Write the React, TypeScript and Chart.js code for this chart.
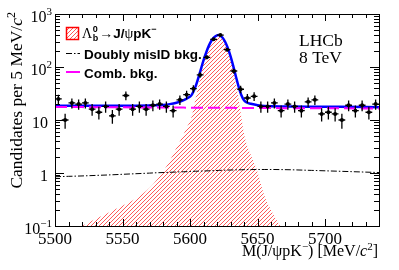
import React, { useEffect, useRef } from "react";
import { Chart, registerables } from "chart.js";
Chart.register(...registerables);

// ---- data ----
const binHalfWidth = 2.5;
const binCenters = [
  5502.5, 5507.5, 5512.5, 5517.5, 5522.5, 5527.5, 5532.5, 5537.5, 5542.5, 5547.5,
  5552.5, 5557.5, 5562.5, 5567.5, 5572.5, 5577.5, 5582.5, 5587.5, 5592.5, 5597.5,
  5602.5, 5607.5, 5612.5, 5617.5, 5622.5, 5627.5, 5632.5, 5637.5, 5642.5, 5647.5,
  5652.5, 5657.5, 5662.5, 5667.5, 5672.5, 5677.5, 5682.5, 5687.5, 5692.5, 5697.5,
  5702.5, 5707.5, 5712.5, 5717.5, 5722.5, 5727.5, 5732.5, 5737.5,
];
const counts = [
  25, 10, 21, 20, 21, 16, 14, 18, 12, 16,
  29, 16, 18, 16, 19, 20, 18, 15, 24, 30,
  39, 71, 152, 333, 400, 212, 84, 38, 26, 28,
  18, 18, 21, 15, 20, 18, 15, 22, 24, 13,
  14, 13, 10, 19, 15, 19, 14, 20,
];

const curveMass = [
  5500, 5510, 5520, 5530, 5540, 5550, 5560, 5570, 5575, 5580,
  5585, 5590, 5595, 5598, 5601, 5604, 5607, 5610, 5612, 5614,
  5616, 5618, 5620, 5621, 5622, 5624, 5626, 5628, 5630, 5632,
  5634, 5636, 5638, 5640, 5642, 5645, 5650, 5655, 5660, 5667,
  5675, 5690, 5710, 5740,
];
const signalCurve = [
  0.055, 0.075, 0.1, 0.135, 0.18, 0.24, 0.33, 0.52, 0.72, 1.05,
  1.7, 3.0, 5.2, 7.5, 11, 24, 55, 115, 170, 235,
  298, 348, 376, 382, 377, 342, 282, 210, 142, 87,
  48, 24.5, 11.5, 5.5, 3.5, 2.2, 1.05, 0.38, 0.2, 0.1,
  0.065, 0.04, 0.025, 0.015,
];
const combCurve = [
  17.6, 17.55, 17.5, 17.45, 17.4, 17.35, 17.3, 17.25, 17.2, 17.2,
  17.2, 17.15, 17.15, 17.1, 17.1, 17.1, 17.1, 17.05, 17.05, 17.05,
  17.0, 17.0, 17.0, 17.0, 17.0, 17.0, 16.95, 16.95, 16.95, 16.95,
  16.9, 16.9, 16.9, 16.9, 16.9, 16.85, 16.85, 16.8, 16.8, 16.75,
  16.7, 16.65, 16.6, 16.45,
];
const misIdCurve = [
  0.85, 0.865, 0.88, 0.9, 0.92, 0.945, 0.97, 0.995, 1.01, 1.02,
  1.03, 1.045, 1.055, 1.06, 1.07, 1.08, 1.085, 1.09, 1.095, 1.1,
  1.105, 1.11, 1.115, 1.12, 1.12, 1.125, 1.13, 1.135, 1.14, 1.14,
  1.145, 1.15, 1.15, 1.155, 1.16, 1.16, 1.165, 1.165, 1.165, 1.16,
  1.15, 1.12, 1.08, 1.02,
];

const xTickLabels = [5500, 5550, 5600, 5650, 5700];
const yTickLabels = [
  { v: 1000, base: "10", sup: "3" },
  { v: 100, base: "10", sup: "2" },
  { v: 10, base: "10", sup: "" },
  { v: 1, base: "1", sup: "" },
  { v: 0.1, base: "10", sup: "\u22121" },
];

const SERIF = "'Liberation Serif', 'Times New Roman', serif";
const SANS = "'Liberation Sans', Arial, sans-serif";
const HATCH = "#ff5a5a";

type Piece = { t: string; f: string; dy?: number };

function piecesWidth(ctx: CanvasRenderingContext2D, pieces: Piece[]) {
  let w = 0;
  for (const p of pieces) {
    ctx.font = p.f;
    w += ctx.measureText(p.t).width;
  }
  return w;
}
function drawPieces(ctx: CanvasRenderingContext2D, pieces: Piece[], x: number, y: number) {
  let cx = x;
  for (const p of pieces) {
    ctx.font = p.f;
    ctx.fillText(p.t, cx, y + (p.dy || 0));
    cx += ctx.measureText(p.t).width;
  }
  return cx;
}

// diagonal "/" hatch lines over a rectangle (caller sets the clip)
function hatchRect(ctx: CanvasRenderingContext2D, l: number, t: number, r: number, b: number) {
  const h = b - t;
  ctx.strokeStyle = HATCH;
  ctx.lineWidth = 1;
  ctx.beginPath();
  for (let s = Math.floor(l - h); s < r + 4; s += 4) {
    ctx.moveTo(s, b);
    ctx.lineTo(s + h, t);
  }
  ctx.stroke();
}

export default function App() {
  const ref = useRef<HTMLCanvasElement>(null);
  useEffect(() => {
    const canvas = ref.current!;
    const total = curveMass.map((m, i) => ({ x: m, y: signalCurve[i] + combCurve[i] + misIdCurve[i] }));

    const rootPlugin = {
      id: "rootStyle",
      afterDatasetDraw(chart: any, args: any) {
        if (chart.data.datasets[args.index].label !== "signal") return;
        const { ctx, chartArea: a } = chart;
        const line = args.meta.dataset;
        const pts = args.meta.data;
        ctx.save();
        ctx.beginPath();
        ctx.rect(a.left, a.top, a.right - a.left, a.bottom - a.top);
        ctx.clip();
        if (line.updateControlPoints) line.updateControlPoints(a, "x");
        ctx.beginPath();
        line.path(ctx);
        ctx.lineTo(pts[pts.length - 1].x, a.bottom + 10);
        ctx.lineTo(pts[0].x, a.bottom + 10);
        ctx.closePath();
        ctx.clip();
        hatchRect(ctx, a.left, a.top, a.right, a.bottom);
        ctx.restore();
      },
      afterDatasetsDraw(chart: any) {
        const { ctx, chartArea: a, scales } = chart;
        const x = scales.x, y = scales.y;
        ctx.save();
        ctx.beginPath();
        ctx.rect(a.left, a.top, a.right - a.left, a.bottom - a.top);
        ctx.clip();
        ctx.strokeStyle = "#000";
        ctx.lineWidth = 1.3;
        binCenters.forEach((m, i) => {
          const n = counts[i];
          const e = Math.sqrt(n);
          const px = x.getPixelForValue(m);
          const py = y.getPixelForValue(n);
          ctx.beginPath();
          ctx.moveTo(x.getPixelForValue(m - binHalfWidth), py);
          ctx.lineTo(x.getPixelForValue(m + binHalfWidth), py);
          ctx.moveTo(px, y.getPixelForValue(n + e));
          ctx.lineTo(px, y.getPixelForValue(Math.max(n - e, 0.001)));
          ctx.stroke();
        });
        ctx.restore();
      },
      afterDraw(chart: any) {
        const { ctx, chartArea: a, scales } = chart;
        const x = scales.x, y = scales.y;
        ctx.save();
        // frame
        ctx.strokeStyle = "#000";
        ctx.lineWidth = 1;
        ctx.strokeRect(Math.round(a.left) + 0.5, Math.round(a.top) + 0.5, Math.round(a.right - a.left), Math.round(a.bottom - a.top));
        // x ticks
        ctx.beginPath();
        for (let v = 5500; v <= 5740; v += 10) {
          const px = Math.round(x.getPixelForValue(v)) + 0.5;
          const len = v % 50 === 0 ? 7 : 4;
          ctx.moveTo(px, a.bottom);
          ctx.lineTo(px, a.bottom - len);
          ctx.moveTo(px, a.top);
          ctx.lineTo(px, a.top + len);
        }
        // y ticks
        for (let d = -1; d <= 3; d++) {
          for (let k = 1; k <= 9; k++) {
            const v = k * Math.pow(10, d);
            if (v > 1000) break;
            const py = Math.round(y.getPixelForValue(v)) + 0.5;
            const len = k === 1 ? 9 : 5;
            ctx.moveTo(a.left, py);
            ctx.lineTo(a.left + len, py);
            ctx.moveTo(a.right, py);
            ctx.lineTo(a.right - len, py);
          }
        }
        ctx.stroke();

        ctx.fillStyle = "#000";
        ctx.textBaseline = "alphabetic";
        // x tick labels
        ctx.font = `17px ${SERIF}`;
        ctx.textAlign = "center";
        for (const v of xTickLabels) {
          ctx.fillText(String(v), x.getPixelForValue(v), 243.5);
        }
        // y tick labels
        ctx.textAlign = "left";
        for (const t of yTickLabels) {
          const py = y.getPixelForValue(t.v) + 8;
          const pieces: Piece[] = [{ t: t.base, f: `16px ${SERIF}` }];
          if (t.sup) pieces.push({ t: t.sup, f: `11px ${SERIF}`, dy: -7.5 });
          const w = piecesWidth(ctx, pieces);
          const right = t.sup ? 52 : 48;
          drawPieces(ctx, pieces, right - w, py);
        }
        // x title
        const xt: Piece[] = [
          { t: "M(J/\u03C8pK", f: `16px ${SERIF}` },
          { t: "\u2212", f: `11px ${SERIF}`, dy: -6 },
          { t: ") [MeV/", f: `16px ${SERIF}` },
          { t: "c", f: `italic 16px ${SERIF}` },
          { t: "2", f: `11px ${SERIF}`, dy: -6.5 },
          { t: "]", f: `16px ${SERIF}` },
        ];
        drawPieces(ctx, xt, 378 - piecesWidth(ctx, xt), 256);
        // y title
        const yt: Piece[] = [
          { t: "Candidates per 5 MeV/", f: `17.5px ${SERIF}` },
          { t: "c", f: `italic 17.5px ${SERIF}` },
          { t: "2", f: `12px ${SERIF}`, dy: -7 },
        ];
        ctx.save();
        ctx.translate(22, 12);
        ctx.rotate(-Math.PI / 2);
        drawPieces(ctx, yt, -piecesWidth(ctx, yt), 0);
        ctx.restore();

        // LHCb label
        ctx.font = `17.5px ${SERIF}`;
        ctx.fillText("LHCb", 299, 46);
        ctx.fillText("8 TeV", 299, 63);

        // legend
        ctx.save();
        ctx.beginPath();
        ctx.rect(66, 27, 12, 12);
        ctx.clip();
        hatchRect(ctx, 66, 27, 78, 39);
        ctx.restore();
        ctx.strokeStyle = "#ff0000";
        ctx.lineWidth = 1.5;
        ctx.strokeRect(66.5, 27.5, 12, 12);
        ctx.fillStyle = "#000";
        let cx = 82;
        const b1 = 38;
        ctx.font = `14px ${SERIF}`;
        ctx.fillText("\u039B", cx, b1);
        cx += ctx.measureText("\u039B").width + 0.5;
        ctx.font = `bold 9px ${SANS}`;
        ctx.fillText("0", cx, b1 - 6);
        ctx.fillText("b", cx, b1 + 3);
        cx += ctx.measureText("b").width + 1;
        drawPieces(ctx, [
          { t: "\u2192", f: `14px ${SERIF}` },
          { t: "J/", f: `bold 13.5px ${SANS}` },
          { t: "\u03C8", f: `14px ${SERIF}` },
          { t: "pK", f: `bold 13.5px ${SANS}` },
          { t: "\u2212", f: `bold 9px ${SANS}`, dy: -6 },
        ], cx, b1);

        ctx.font = `bold 13.5px ${SANS}`;
        ctx.fillText("Doubly misID bkg.", 84, 58.5);
        ctx.fillText("Comb. bkg.", 84, 77.5);

        ctx.strokeStyle = "#000";
        ctx.lineWidth = 1;
        ctx.setLineDash([6, 2, 1.5, 2]);
        ctx.beginPath();
        ctx.moveTo(66, 53.5);
        ctx.lineTo(80, 53.5);
        ctx.stroke();
        ctx.setLineDash([]);
        ctx.strokeStyle = "#ff00ff";
        ctx.lineWidth = 2;
        ctx.beginPath();
        ctx.moveTo(66, 72);
        ctx.lineTo(80, 72);
        ctx.stroke();
        ctx.restore();
      },
    };

    const chart = new Chart(canvas, {
      type: "line",
      data: {
        datasets: [
          {
            label: "data",
            data: binCenters.map((m, i) => ({ x: m, y: counts[i] })),
            showLine: false,
            pointRadius: 2,
            pointBackgroundColor: "#000",
            pointBorderWidth: 0,
            order: 1,
          },
          {
            label: "comb",
            data: curveMass.map((m, i) => ({ x: m, y: combCurve[i] })),
            borderColor: "#ff00ff",
            borderWidth: 2,
            borderDash: [12, 5],
            pointRadius: 0,
            fill: false,
            order: 2,
          },
          {
            label: "total",
            data: total,
            borderColor: "#0000ff",
            borderWidth: 2.5,
            pointRadius: 0,
            fill: false,
            cubicInterpolationMode: "monotone",
            order: 3,
          },
          {
            label: "misid",
            data: curveMass.map((m, i) => ({ x: m, y: misIdCurve[i] })),
            borderColor: "#000",
            borderWidth: 1,
            borderDash: [6, 2, 1.5, 2],
            pointRadius: 0,
            fill: false,
            cubicInterpolationMode: "monotone",
            order: 4,
          },
          {
            label: "signal",
            data: curveMass.map((m, i) => ({ x: m, y: signalCurve[i] })),
            borderWidth: 0,
            borderColor: "rgba(0,0,0,0)",
            pointRadius: 0,
            fill: false,
            cubicInterpolationMode: "monotone",
            order: 5,
          },
        ],
      } as any,
      options: {
        responsive: false,
        animation: false,
        devicePixelRatio: 1,
        layout: { padding: { left: 55, top: 14, right: 20, bottom: 44 } },
        plugins: { legend: { display: false }, tooltip: { enabled: false } },
        scales: {
          x: { type: "linear", min: 5500, max: 5740, display: false },
          y: { type: "logarithmic", min: 0.1, max: 1000, display: false },
        },
      } as any,
      plugins: [rootPlugin],
    });
    return () => chart.destroy();
  }, []);
  return (
    <div style={{ position: "absolute", left: 0, top: 0, width: 399, height: 270, background: "#fff" }}>
      <canvas ref={ref} width={399} height={270} />
    </div>
  );
}
